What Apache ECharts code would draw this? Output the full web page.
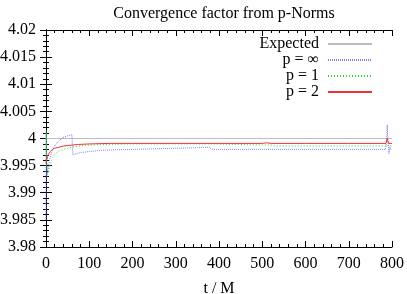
<!DOCTYPE html>
<html>
<head>
<meta charset="utf-8">
<script src="https://cdn.jsdelivr.net/npm/echarts@6/dist/echarts.min.js"></script>
<style>
  html, body { margin: 0; padding: 0; background: #fff; }
  #chart { width: 407px; height: 294px; }
</style>
</head>
<body>
<div id="chart"></div>
<script>
// data
var tExpected = [0, 800];
var vExpected = [4.0, 4.0];

var tPinf = [0, 0.5, 1, 2, 3, 5, 8, 12, 16, 20, 30, 40, 50, 60, 61, 62, 70, 80, 100, 125, 150, 200, 250, 300, 350, 378, 382, 400, 450, 500, 600, 700, 785, 787, 789, 791, 793, 795, 797, 800];
var vPinf = [3.985, 4.001, 4.001, 3.993, 3.9935, 3.9938, 3.996, 3.9972, 3.998, 3.9986, 3.9996, 4.0002, 4.0005, 4.0007, 4.0004, 3.997, 3.9972, 3.9974, 3.9976, 3.9978, 3.9979, 3.998, 3.9981, 3.9982, 3.9983, 3.9984, 3.998, 3.998, 3.998, 3.998, 3.998, 3.998, 3.998, 3.999, 4.0025, 3.999, 3.9972, 3.9985, 3.998, 3.998];

var tP1 = [0, 0.5, 1, 2, 4, 6, 8, 12, 16, 20, 25, 30, 40, 50, 60, 75, 100, 150, 200, 300, 378, 382, 500, 520, 530, 600, 700, 786, 789, 792, 795, 800];
var vP1 = [3.996, 4.0015, 4.0005, 3.996, 3.9935, 3.994, 3.9948, 3.9958, 3.9965, 3.997, 3.9974, 3.9977, 3.998, 3.9982, 3.9984, 3.9986, 3.9988, 3.9989, 3.999, 3.999, 3.999, 3.9988, 3.9988, 3.9988, 3.9986, 3.9986, 3.9986, 3.9986, 3.9983, 3.9988, 3.9986, 3.9986];

var tP2 = [0, 1, 2, 4, 6, 10, 15, 20, 30, 40, 50, 62, 75, 100, 150, 200, 300, 400, 500, 510, 520, 600, 700, 786, 789, 792, 800];
var vP2 = [3.9955, 3.9958, 3.9962, 3.9967, 3.9971, 3.9976, 3.998, 3.9982, 3.9984, 3.9986, 3.9987, 3.9988, 3.9989, 3.999, 3.9991, 3.9991, 3.9991, 3.9991, 3.9991, 3.9992, 3.9991, 3.9991, 3.9991, 3.9991, 4.0, 3.9991, 3.9991];

var xTicks = { min: 0, max: 800, step: 100 };
var yTicks = { min: 3.98, max: 4.02, step: 0.005 };

function pairs(t, v) {
    return t.map(function (x, i) { return [x, v[i]]; });
}

var font = 'Liberation Serif';
var myChart = echarts.init(document.getElementById('chart'), null, { renderer: 'canvas' });

var axisBase = {
    type: 'value',
    axisLine: { show: true, lineStyle: { color: '#000', width: 1 } },
    axisTick: { show: true, inside: true, length: 6, lineStyle: { color: '#000' } },
    minorTick: { show: true, splitNumber: 5, length: 3, lineStyle: { color: '#000' } },
    splitLine: { show: false },
    minorSplitLine: { show: false }
};

function legendAt(name, top) {
    return {
        data: [name],
        right: 34,
        top: top,
        orient: 'vertical',
        align: 'right',
        itemWidth: 44,
        itemHeight: 12,
        padding: 0,
        selectedMode: false,
        itemStyle: { opacity: 0 },
        textStyle: { fontFamily: font, fontSize: 16, color: '#000', padding: [0, 4, 0, 0] }
    };
}

myChart.setOption({
    animation: false,
    backgroundColor: '#fff',
    title: {
        text: 'Convergence factor from p-Norms',
        left: 219,
        top: 1,
        textAlign: 'center',
        textStyle: { fontFamily: font, fontSize: 16, fontWeight: 'normal', color: '#000' }
    },
    grid: { left: 46, right: 15, top: 30, bottom: 47, containLabel: false, outerBoundsMode: 'none' },
    legend: [
        legendAt('Expected', 36),
        legendAt('p = ∞', 52),
        legendAt('p = 1', 68),
        legendAt('p = 2', 84)
    ],
    xAxis: [
        Object.assign({}, axisBase, {
            position: 'bottom',
            min: xTicks.min, max: xTicks.max, interval: xTicks.step,
            name: 't / M',
            nameLocation: 'middle',
            nameGap: 34,
            nameTextStyle: { fontFamily: font, fontSize: 16, color: '#000' },
            axisLabel: { fontFamily: font, fontSize: 16, color: '#000', margin: 9 }
        }),
        Object.assign({}, axisBase, {
            position: 'top',
            min: xTicks.min, max: xTicks.max, interval: xTicks.step,
            axisLabel: { show: false }
        })
    ],
    yAxis: [
        Object.assign({}, axisBase, {
            position: 'left',
            min: yTicks.min, max: yTicks.max, interval: yTicks.step,
            axisLabel: {
                fontFamily: font, fontSize: 16, color: '#000', margin: 10,
                formatter: function (v) { return String(+v.toFixed(3)); }
            }
        }),
        Object.assign({}, axisBase, {
            position: 'right',
            min: yTicks.min, max: yTicks.max, interval: yTicks.step,
            axisLabel: { show: false }
        })
    ],
    series: [
        {
            name: 'Expected', type: 'line', symbol: 'none',
            data: pairs(tExpected, vExpected),
            lineStyle: { color: '#bdbdbd', width: 1 },
            itemStyle: { color: '#bdbdbd' }
        },
        {
            name: 'p = ∞', type: 'line', symbol: 'none',
            data: pairs(tPinf, vPinf),
            lineStyle: { color: '#7f7fff', width: 1, type: [1, 1] },
            itemStyle: { color: '#7f7fff' }
        },
        {
            name: 'p = 1', type: 'line', symbol: 'none',
            data: pairs(tP1, vP1),
            lineStyle: { color: '#22dd22', width: 1, type: [1, 2] },
            itemStyle: { color: '#22dd22' }
        },
        {
            name: 'p = 2', type: 'line', symbol: 'none',
            data: pairs(tP2, vP2),
            lineStyle: { color: '#ee3333', width: 1 },
            itemStyle: { color: '#ee3333' }
        }
    ]
});
</script>
</body>
</html>
